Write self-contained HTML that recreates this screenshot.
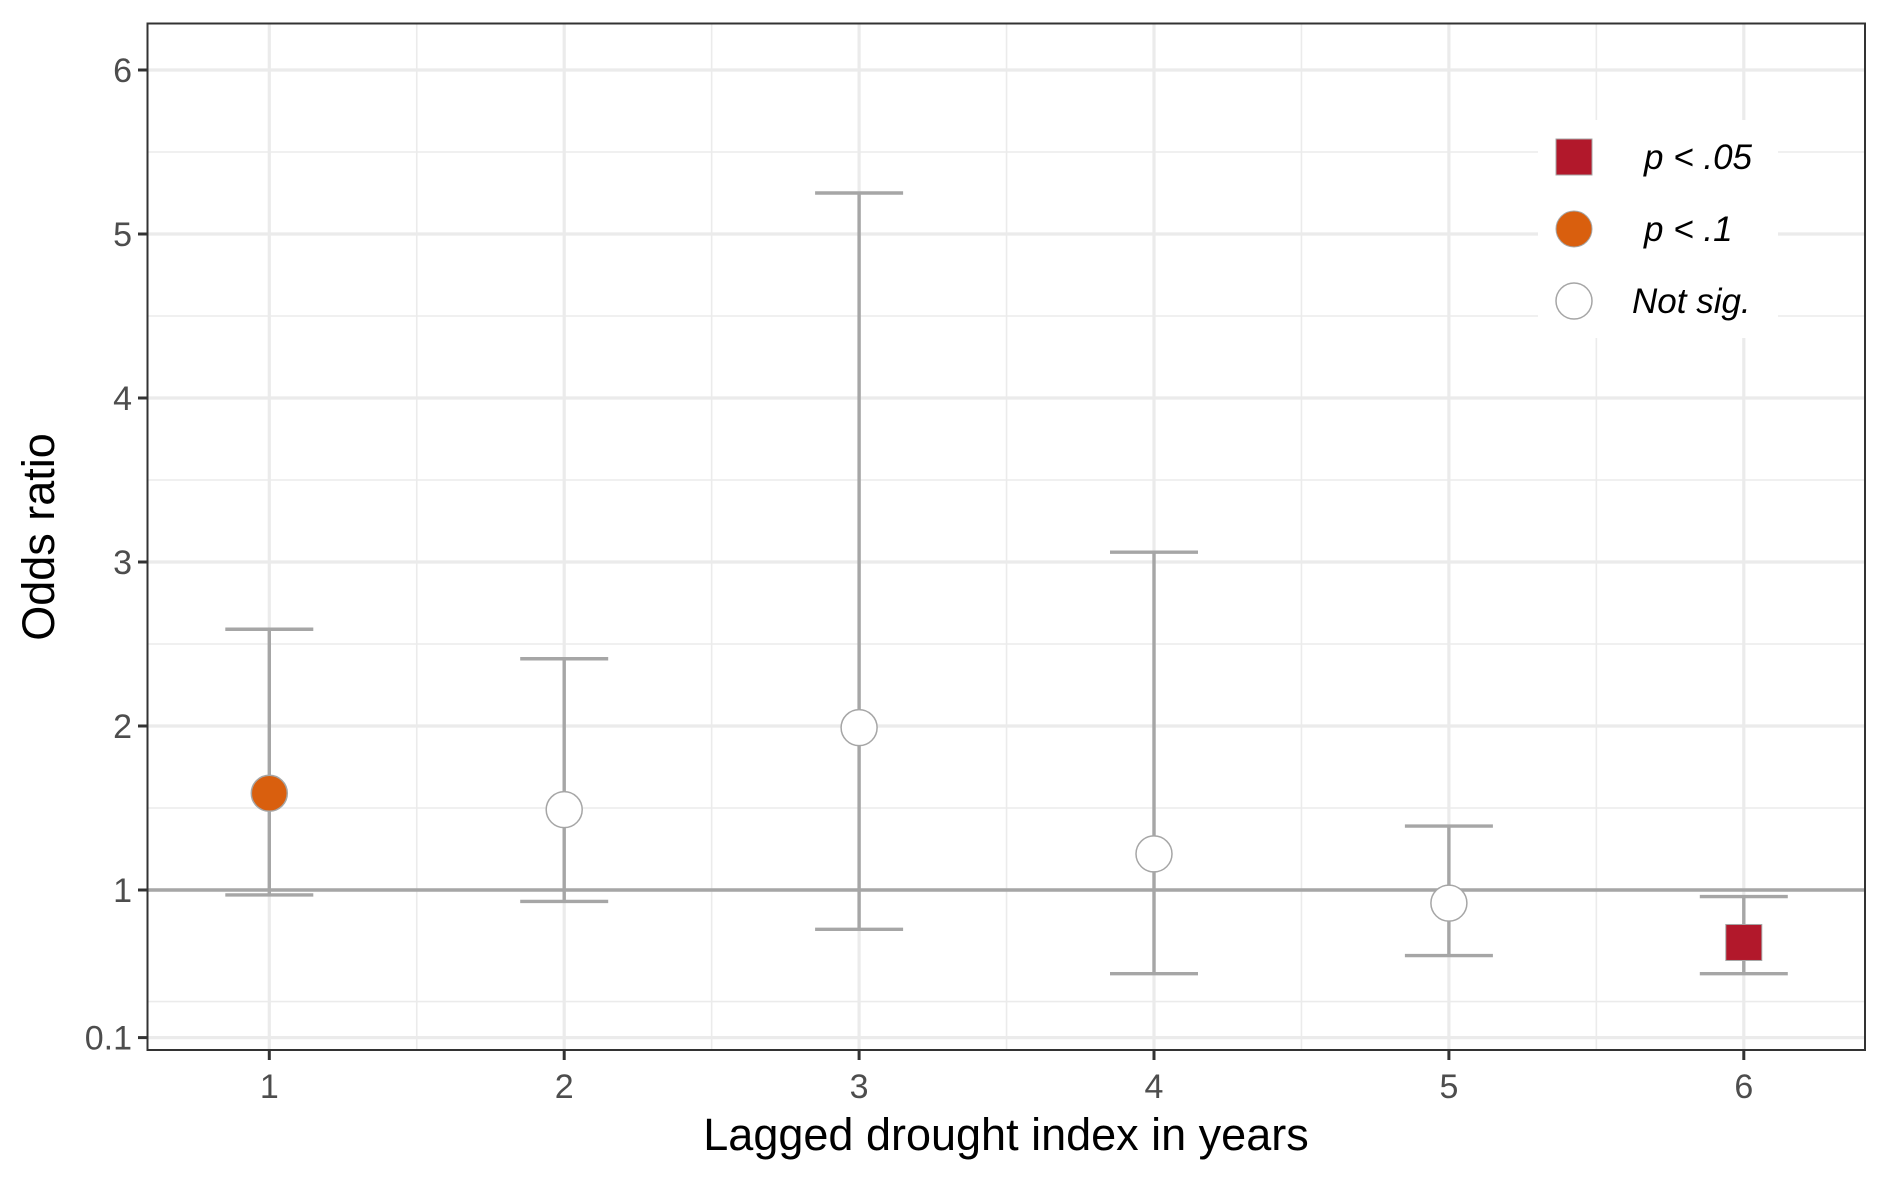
<!DOCTYPE html>
<html><head><meta charset="utf-8"><style>
body{margin:0;background:#fff}
svg{display:block;font-family:"Liberation Sans",Arial,sans-serif}
</style></head><body>
<svg id="chart" width="1889" height="1181" viewBox="0 0 1889 1181" xmlns="http://www.w3.org/2000/svg">
<rect width="1889" height="1181" fill="#fff"/>
<g id="grid"></g>
<g id="refline"></g>
<g id="marks"></g>
<rect x="147.5" y="23.5" width="1717.5" height="1026.5" fill="none" stroke="#333" stroke-width="2"/>
<g id="axes"></g>
<text x="1006" y="1150" font-size="45" text-anchor="middle" fill="#000">Lagged drought index in years</text>
<text transform="translate(54,537) rotate(-90)" font-size="45" text-anchor="middle" fill="#000">Odds ratio</text>
<g id="legend">
<rect x="1538" y="120" width="240" height="218" fill="#fff"/>
<g>
<rect x="1556" y="139" width="36" height="36" fill="#b2182b" stroke="#a6a6a6" stroke-width="1"/>
<text x="1644" y="169" font-size="35" font-style="italic" fill="#000">p &lt; .05</text></g>
<g>
<circle cx="1574" cy="229" r="18" fill="#d95f0e" stroke="#a6a6a6" stroke-width="1"/>
<text x="1644" y="241" font-size="35" font-style="italic" fill="#000">p &lt; .1</text></g>
<g>
<circle cx="1574" cy="301" r="18" fill="#fff" stroke="#a6a6a6" stroke-width="1.5"/>
<text x="1632" y="313" font-size="35" font-style="italic" fill="#000">Not sig.</text></g>
</g>
</svg>
<script>
const categories = [1, 2, 3, 4, 5, 6];
const estimates = [1.59, 1.49, 1.99, 1.22, 0.92, 0.68];
const upperCI = [2.59, 2.41, 5.25, 3.06, 1.39, 0.96];
const lowerCI = [0.97, 0.93, 0.76, 0.49, 0.60, 0.49];
const significance = ["p1", "ns", "ns", "ns", "ns", "p05"];
const yTicks = [0.1, 1, 2, 3, 4, 5, 6];
const yTickLabels = ["0.1", "1", "2", "3", "4", "5", "6"];
const yMinor = [0.32, 1.5, 2.5, 3.5, 4.5, 5.5];
const xMinor = [1.5, 2.5, 3.5, 4.5, 5.5];

const NS = "http://www.w3.org/2000/svg";
const L = 148, R = 1865, T = 24, B = 1050;
function xs(v){ return 269.3 + (v - 1) * 294.9; }
function ys(v){ return 890 - (v - 1) * 164; }
function mk(tag, attrs, parent){
  const e = document.createElementNS(NS, tag);
  for (const k in attrs) e.setAttribute(k, attrs[k]);
  parent.appendChild(e); return e;
}
const grid = document.getElementById('grid');
yMinor.forEach(v => {
  const l = mk('line', {x1:L, x2:R, y1:ys(v), y2:ys(v), stroke:'#ebebeb', 'stroke-width':1.6}, grid);
  
  
});
xMinor.forEach(v => {
  const l = mk('line', {x1:xs(v), x2:xs(v), y1:T, y2:B, stroke:'#ebebeb', 'stroke-width':1.6}, grid);
  
  
});
yTicks.forEach(v => {
  const l = mk('line', {x1:L, x2:R, y1:ys(v), y2:ys(v), stroke:'#ebebeb', 'stroke-width':3.2}, grid);
  
  
});
categories.forEach(c => {
  const l = mk('line', {x1:xs(c), x2:xs(c), y1:T, y2:B, stroke:'#ebebeb', 'stroke-width':3.2}, grid);
  
  
});
const rl = mk('line', {x1:L, x2:R, y1:ys(1), y2:ys(1), stroke:'#a6a6a6', 'stroke-width':3.4}, document.getElementById('refline'));



const marks = document.getElementById('marks');
categories.forEach((c, i) => {
  const g = mk('g', {}, marks);
  
  
  const x = xs(c), hw = 44;
  mk('line', {x1:x, x2:x, y1:ys(upperCI[i]), y2:ys(lowerCI[i]), stroke:'#a6a6a6', 'stroke-width':3.4}, g);
  mk('line', {x1:x-hw, x2:x+hw, y1:ys(upperCI[i]), y2:ys(upperCI[i]), stroke:'#a6a6a6', 'stroke-width':3.4}, g);
  mk('line', {x1:x-hw, x2:x+hw, y1:ys(lowerCI[i]), y2:ys(lowerCI[i]), stroke:'#a6a6a6', 'stroke-width':3.4}, g);
  const y = ys(estimates[i]);
  if (significance[i] === 'p05') {
    mk('rect', {x:x-18, y:y-18, width:36, height:36, fill:'#b2182b', stroke:'#a6a6a6', 'stroke-width':1}, g);
  } else {
    mk('circle', {cx:x, cy:y, r:18, fill: significance[i]==='p1' ? '#d95f0e' : '#fff', stroke:'#a6a6a6', 'stroke-width':1.5}, g);
  }
});

const axes = document.getElementById('axes');
yTicks.forEach((v, i) => {
  const t = mk('line', {x1:L-10, x2:L, y1:ys(v), y2:ys(v), stroke:'#333', 'stroke-width':3}, axes);
  
  
  const tx = mk('text', {x:L-16, y:ys(v)+12, 'font-size':34, fill:'#4d4d4d', 'text-anchor':'end'}, axes);
  tx.textContent = yTickLabels[i];
  
  
});
categories.forEach(c => {
  const t = mk('line', {x1:xs(c), x2:xs(c), y1:B, y2:B+10, stroke:'#333', 'stroke-width':3}, axes);
  
  
  const tx = mk('text', {x:xs(c), y:B+48, 'font-size':34, fill:'#4d4d4d', 'text-anchor':'middle'}, axes);
  tx.textContent = String(c);
  
  
});
</script>
</body></html>
